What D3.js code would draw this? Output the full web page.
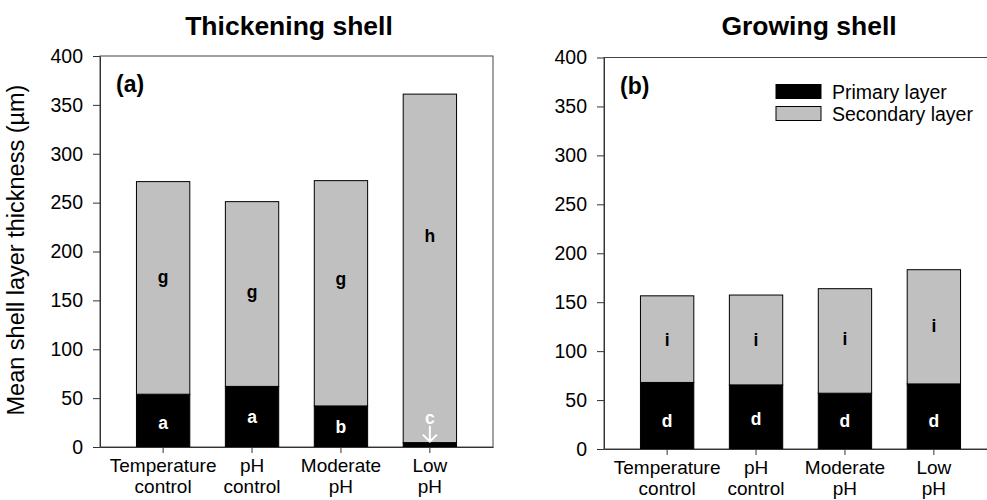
<!DOCTYPE html>
<html>
<head>
<meta charset="utf-8">
<script src="https://cdn.jsdelivr.net/npm/d3@7"></script>
<style>
  body { margin: 0; background: #fff; }
  svg { display: block; font-family: "Liberation Sans", Arial, sans-serif; }
</style>
</head>
<body>
<script>
// Data (µm)
const categories = ["Temperature control", "pH control", "Moderate pH", "Low pH"];
const yTicks = [0, 50, 100, 150, 200, 250, 300, 350, 400];

const thickPrimary = [54, 62, 42, 4.5];
const thickSecondary = [217.5, 189, 230.5, 356.5];
const thickPrimaryLetters = ["a", "a", "b", "c"];
const thickSecondaryLetters = ["g", "g", "g", "h"];
const thickPrimaryLetterAt = [25, 31, 21, 30];
const thickSecondaryLetterAt = [174, 159, 172, 216];

const growPrimary = [68, 65.5, 57, 66.5];
const growSecondary = [88.5, 91.8, 106.8, 116.7];
const growPrimaryLetters = ["d", "d", "d", "d"];
const growSecondaryLetters = ["i", "i", "i", "i"];
const growPrimaryLetterAt = [29, 31, 29, 29];
const growSecondaryLetterAt = [111, 111, 113, 126];

const legendLabels = ["Primary layer", "Secondary layer"];
const layerColours = ["#000000", "#c0c0c0"];

const width = 987, height = 500;
const plotW = 393;

const panels = [
    {title: "Thickening shell", tag: "(a)", x0: 100, top: 56, bottom: 447, titleX: 289,
     primary: thickPrimary, secondary: thickSecondary,
     pLetters: thickPrimaryLetters, sLetters: thickSecondaryLetters,
     pAt: thickPrimaryLetterAt, sAt: thickSecondaryLetterAt, legend: false},
    {title: "Growing shell", tag: "(b)", x0: 604, top: 57.5, bottom: 449, titleX: 809,
     primary: growPrimary, secondary: growSecondary,
     pLetters: growPrimaryLetters, sLetters: growSecondaryLetters,
     pAt: growPrimaryLetterAt, sAt: growSecondaryLetterAt, legend: true}
];

const svg = d3.select("body")
    .append("svg")
        .attr("width", width)
        .attr("height", height);

// Y axis label, shared
svg.append("text")
    .attr("transform", "translate(24, 250) rotate(-90)")
    .attr("text-anchor", "middle")
    .style("font-size", "23.5px")
    .text("Mean shell layer thickness (µm)");

panels.forEach(p => {
    const g = svg.append("g");

    const xScale = d3.scaleBand()
        .domain(categories)
        .range([p.x0, p.x0 + plotW])
        .paddingInner(0.4)
        .paddingOuter(0.41);
    const yScale = d3.scaleLinear()
        .domain([0, 400])
        .range([p.bottom, p.top]);

    // stack the two layers
    const table = categories.map((c, i) => ({cat: c, primary: p.primary[i], secondary: p.secondary[i]}));
    const series = d3.stack().keys(["primary", "secondary"])(table);

    // frame
    g.append("rect")
        .attr("x", p.x0)
        .attr("y", p.top)
        .attr("width", plotW)
        .attr("height", p.bottom - p.top)
        .attr("fill", "none")
        .attr("stroke", "#444");

    g.selectAll(".layer")
        .data(series)
        .join("g")
            .attr("class", "layer")
            .attr("fill", (d, i) => layerColours[i])
        .selectAll("rect")
        .data(d => d)
        .join("rect")
            .attr("x", d => xScale(d.data.cat))
            .attr("y", d => yScale(d[1]))
            .attr("width", xScale.bandwidth())
            .attr("height", d => yScale(d[0]) - yScale(d[1]))
            .attr("stroke", "#000")
            .attr("stroke-width", 1);

    // axes
    const leftAxis = d3.axisLeft(yScale)
        .tickValues(yTicks)
        .tickSize(7)
        .tickPadding(10)
        .tickSizeOuter(0);
    const yAx = g.append("g")
        .attr("transform", `translate(${p.x0}, 0)`)
        .call(leftAxis);
    yAx.selectAll("text")
        .style("font-size", "19.5px")
        .attr("fill", "#000")
        .attr("font-family", null);

    const bottomAxis = d3.axisBottom(xScale)
        .tickSize(6)
        .tickSizeOuter(0)
        .tickFormat("");
    g.append("g")
        .attr("transform", `translate(0, ${p.bottom})`)
        .call(bottomAxis);

    g.selectAll(".domain, .tick line").attr("stroke", "#333");

    // two-line category labels
    categories.forEach(c => {
        const words = c.split(" ");
        const t = g.append("text")
            .attr("text-anchor", "middle")
            .style("font-size", "19px");
        words.forEach((w, j) => {
            t.append("tspan")
                .attr("x", xScale(c) + xScale.bandwidth() / 2)
                .attr("y", p.bottom + 25 + j * 21)
                .text(w);
        });
    });

    // significance letters
    const cx = i => xScale(categories[i]) + xScale.bandwidth() / 2;
    g.selectAll(".sLetter")
        .data(p.sLetters)
        .join("text")
            .attr("class", "sLetter")
            .attr("x", (d, i) => cx(i))
            .attr("y", (d, i) => yScale(p.sAt[i]))
            .attr("dy", "0.35em")
            .attr("text-anchor", "middle")
            .style("font-size", "17.5px")
            .style("font-weight", "bold")
            .text(d => d);
    g.selectAll(".pLetter")
        .data(p.pLetters)
        .join("text")
            .attr("class", "pLetter")
            .attr("x", (d, i) => cx(i))
            .attr("y", (d, i) => yScale(p.pAt[i]))
            .attr("dy", "0.35em")
            .attr("text-anchor", "middle")
            .attr("fill", "#fff")
            .style("font-size", "17.5px")
            .style("font-weight", "bold")
            .text(d => d);

    // arrow pointing at the very thin primary layer
    p.primary.forEach((v, i) => {
        if (v > 10) return;
        const ax = cx(i);
        const yTop = yScale(p.pAt[i]) + 8;
        const yTip = yScale(v) - 1;
        g.append("path")
            .attr("d", `M${ax},${yTop}V${yTip}M${ax - 7},${yTip - 7}L${ax},${yTip}L${ax + 7},${yTip - 7}`)
            .attr("fill", "none")
            .attr("stroke", "#fff")
            .attr("stroke-width", 2);
    });

    // title and panel tag
    svg.append("text")
        .attr("x", p.titleX)
        .attr("y", 35)
        .attr("text-anchor", "middle")
        .style("font-size", "26.5px")
        .style("font-weight", "bold")
        .text(p.title);
    g.append("text")
        .attr("x", p.x0 + 16)
        .attr("y", p.top + 36)
        .style("font-size", "23px")
        .style("font-weight", "bold")
        .text(p.tag);

    if (p.legend) {
        const lg = g.append("g").attr("transform", `translate(${p.x0 + 172}, ${p.top + 27})`);
        legendLabels.forEach((lab, i) => {
            lg.append("rect")
                .attr("x", 0)
                .attr("y", i * 22)
                .attr("width", 45)
                .attr("height", 14)
                .attr("fill", layerColours[i])
                .attr("stroke", "#000");
            lg.append("text")
                .attr("x", 56)
                .attr("y", i * 22 + 14)
                .style("font-size", "19.5px")
                .text(lab);
        });
    }
});
</script>
</body>
</html>
